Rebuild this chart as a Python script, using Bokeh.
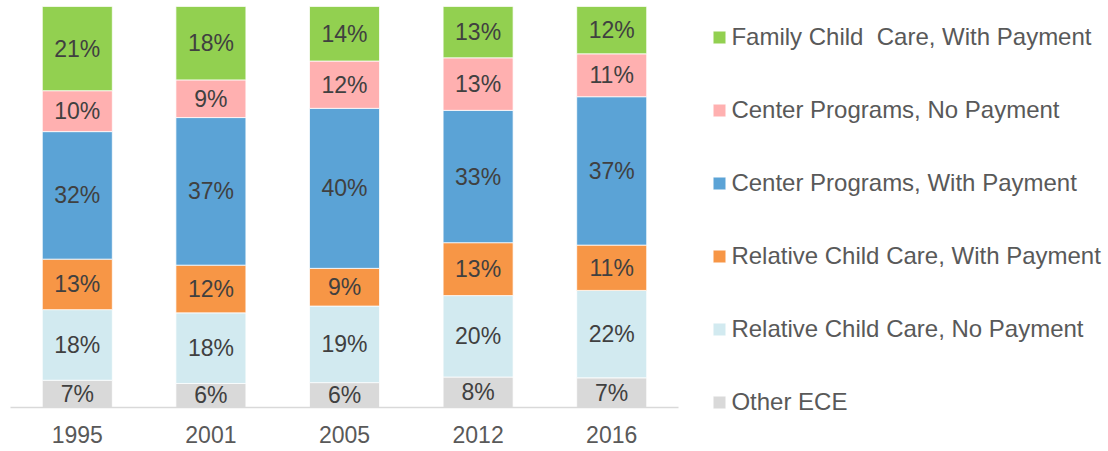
from bokeh.plotting import figure
from bokeh.models import ColumnDataSource, FactorRange, Range1d, Legend, LegendItem
from bokeh.embed import file_html
from bokeh.resources import INLINE
from bokeh.core.properties import value
import numpy as np

years = ["1995", "2001", "2005", "2012", "2016"]

# series, bottom of the stack first
series_names = [
    "Other ECE",
    "Relative Child Care, No Payment",
    "Relative Child Care, With Payment",
    "Center Programs, With Payment",
    "Center Programs, No Payment",
    "Family Child  Care, With Payment",
]
other_ece = [6.8, 6.0, 6.2, 7.6, 7.4]
relative_no_payment = [17.6, 17.6, 19.1, 20.3, 21.8]
relative_with_payment = [12.6, 11.9, 9.4, 13.2, 11.3]
center_with_payment = [31.8, 36.8, 39.9, 33.0, 37.0]
center_no_payment = [10.2, 9.4, 11.8, 13.1, 10.7]
family_with_payment = [21.0, 18.3, 13.6, 12.8, 11.8]

series_values = [other_ece, relative_no_payment, relative_with_payment,
                 center_with_payment, center_no_payment, family_with_payment]
colors = ["#D9D9D9", "#D2EAF0", "#F79646", "#5BA3D6", "#FFB0B0", "#92D050"]

FONT = "Liberation Sans"

p = figure(
    x_range=FactorRange(factors=years, range_padding=0),
    y_range=Range1d(0, 100),
    frame_width=668, frame_height=401,
    min_border_left=10, min_border_right=430, min_border_top=6, min_border_bottom=42,
    y_axis_location=None,
    output_backend="svg", toolbar_location=None,
    background_fill_color="white", border_fill_color="white",
)
p.outline_line_color = None
p.grid.visible = False

bottom = np.zeros(len(years))
renderers = []
for name, vals, col in zip(series_names, series_values, colors):
    vals = np.array(vals, dtype=float)
    top = bottom + vals
    src = ColumnDataSource(dict(
        x=years, bottom=bottom.copy(), top=top.copy(),
        mid=(bottom + top) / 2,
        label=[f"{round(v)}%" for v in vals],
    ))
    r = p.vbar(x="x", bottom="bottom", top="top", width=0.524, source=src,
               fill_color=col, line_color="white", line_width=0.75)
    p.text(x="x", y="mid", text="label", source=src,
           text_align="center", text_baseline="middle",
           text_font=value(FONT), text_font_size="23px", text_color="#404040")
    renderers.append((name, r))
    bottom = top

ax = p.xaxis[0]
ax.axis_line_color = "#D9D9D9"
ax.axis_line_width = 1.5
ax.major_tick_line_color = None
ax.minor_tick_line_color = None
ax.major_label_text_font = FONT
ax.major_label_text_font_size = "23px"
ax.major_label_text_color = "#595959"
ax.major_label_standoff = 12

items = [LegendItem(label=n, renderers=[r]) for n, r in reversed(renderers)]
legend = Legend(items=items, location=(33.4, -8.7))
legend.glyph_width = 16
legend.glyph_height = 16
legend.label_height = 28
legend.label_standoff = 4
legend.spacing = 45
legend.padding = 0
legend.margin = 0
legend.border_line_color = None
legend.background_fill_alpha = 0
legend.label_text_font = FONT
legend.label_text_font_size = "24px"
legend.label_text_color = "#595959"
p.add_layout(legend, "right")

open("out.html", "w").write(file_html(p, INLINE))
